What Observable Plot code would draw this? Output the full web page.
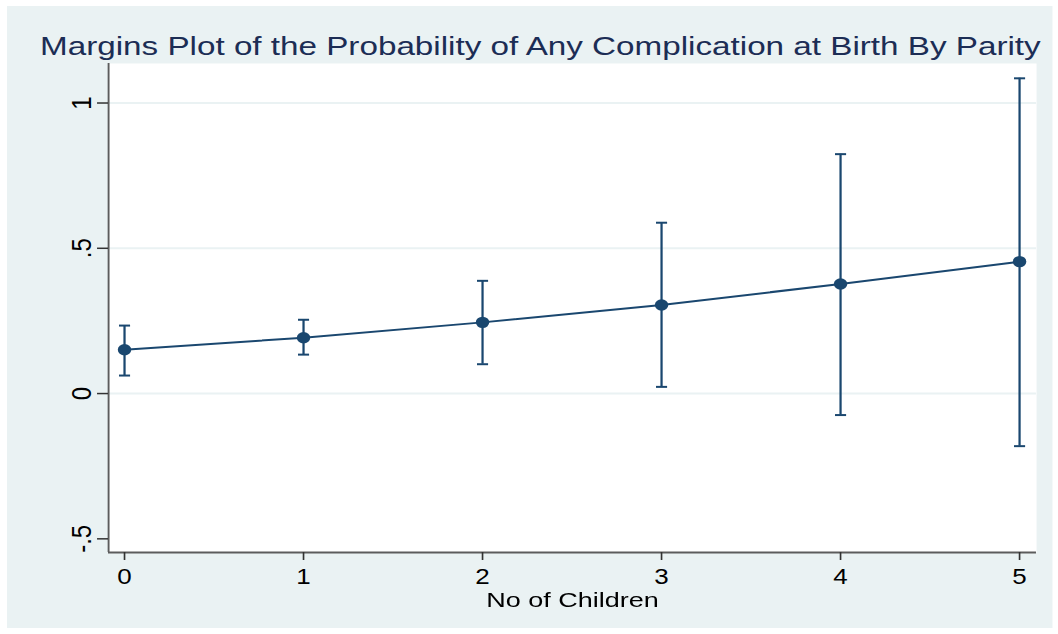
<!DOCTYPE html>
<html>
<head>
<meta charset="utf-8">
<script src="https://cdn.jsdelivr.net/npm/d3@7"></script>
<script src="https://cdn.jsdelivr.net/npm/@observablehq/plot@0.6"></script>
<style>
  html, body { margin: 0; padding: 0; background: #ffffff; }
  #wrap {
    position: absolute; left: 7px; top: 6px; height: 622px;
    background: #eaf2f3; transform-origin: 0 0; overflow: visible;
  }
  #title {
    position: absolute; left: 28px; top: 27.8px; white-space: nowrap;
    font-family: "Liberation Sans", Arial, sans-serif; font-size: 25px; line-height: 25px;
    color: #1c2d55; transform-origin: 0 0; transform: scaleX(1.126);
  }
  #xtitle {
    position: absolute; top: 583.2px; text-align: center; white-space: nowrap;
    font-family: "Liberation Sans", Arial, sans-serif; font-size: 21px; line-height: 21px;
    color: #000000; transform-origin: 50% 0; transform: scaleX(1.09);
  }
  #chart { position: absolute; left: 0; top: 0; }
</style>
</head>
<body>
<div id="wrap">
  <div id="title"></div>
  <div id="chart"></div>
  <div id="xtitle"></div>
</div>
<script>
// ---- data ----
const children = [0, 1, 2, 3, 4, 5];
const margin   = [0.151, 0.192, 0.245, 0.305, 0.377, 0.454];
const ciLow    = [0.062, 0.134, 0.101, 0.023, -0.074, -0.181];
const ciHigh   = [0.234, 0.254, 0.388, 0.588, 0.824, 1.085];
const xTicks = [0, 1, 2, 3, 4, 5];
const yTicks = [-0.5, 0, 0.5, 1];
const yTickLabels = ["-.5", "0", ".5", "1"];
const gridTicks = [0, 0.5, 1];
const titleText = "Margins Plot of the Probability of Any Complication at Birth By Parity";
const xLabel = "No of Children";

// ---- layout ----
const s = 1.18;               // horizontal stretch of the original picture
const fullW = 1045, fullH = 622;
const W = fullW / s;
const mL = 101 / s, mR = 16 / s, mT = 57, mB = 76;
const xDomain = [-0.089, 5.095];
const yDomain = [-0.547, 1.136];
const navy = "#1a476f";
const font = "'Liberation Sans', Arial, sans-serif";

const rows = children.map((c, i) => ({c, m: margin[i], lo: ciLow[i], hi: ciHigh[i]}));
const yLab = yTicks.map((v, i) => ({v, t: yTickLabels[i]}));

const capSymbol = {
  draw(ctx, size) {
    const r = Math.sqrt(size / Math.PI);
    ctx.moveTo(-r, 0); ctx.lineTo(r, 0);
  }
};

const wrap = document.getElementById("wrap");
wrap.style.width = W + "px";
wrap.style.transform = `scaleX(${s})`;
document.getElementById("title").textContent = titleText;
const xt = document.getElementById("xtitle");
xt.textContent = xLabel;
xt.style.left = mL + "px";
xt.style.width = (W - mL - mR) + "px";

const chart = Plot.plot({
  width: W, height: fullH,
  marginLeft: mL, marginRight: mR, marginTop: mT, marginBottom: mB,
  style: {background: "transparent", fontFamily: font, overflow: "visible"},
  x: {domain: xDomain},
  y: {domain: yDomain},
  marks: [
    Plot.frame({fill: "#ffffff", stroke: null}),
    Plot.ruleY(gridTicks, {stroke: "#eaf2f3", strokeWidth: 2}),
    Plot.ruleX([xDomain[0]], {stroke: "#5c5c5c", strokeWidth: 1.6}),
    Plot.ruleY([yDomain[0]], {stroke: "#5c5c5c", strokeWidth: 2}),
    Plot.axisX({ticks: xTicks, tickFormat: d => String(d), tickSize: 8, tickPadding: 8,
      fontSize: 22, stroke: "#333", strokeWidth: 1.4, fill: "#000", label: null}),
    Plot.axisY({ticks: yTicks, tickFormat: () => "", tickSize: 9.3, stroke: "#333", strokeWidth: 1.5, label: null}),
    Plot.text(yLab, {x: xDomain[0], y: "v", text: "t", rotate: -90, dx: -23,
      textAnchor: "middle", lineAnchor: "middle", fontSize: 24, fill: "#000"}),
    Plot.line(rows, {x: "c", y: "m", stroke: navy, strokeWidth: 2}),
    Plot.ruleX(rows, {x: "c", y1: "lo", y2: "hi", stroke: navy, strokeWidth: 1.9}),
    Plot.dot(rows, {x: "c", y: "lo", symbol: capSymbol, r: 4.7, stroke: navy, strokeWidth: 2, fill: "none"}),
    Plot.dot(rows, {x: "c", y: "hi", symbol: capSymbol, r: 4.7, stroke: navy, strokeWidth: 2, fill: "none"}),
    Plot.dot(rows, {x: "c", y: "m", r: 5.7, fill: navy, stroke: null})
  ]
});
document.getElementById("chart").appendChild(chart);
</script>
</body>
</html>
